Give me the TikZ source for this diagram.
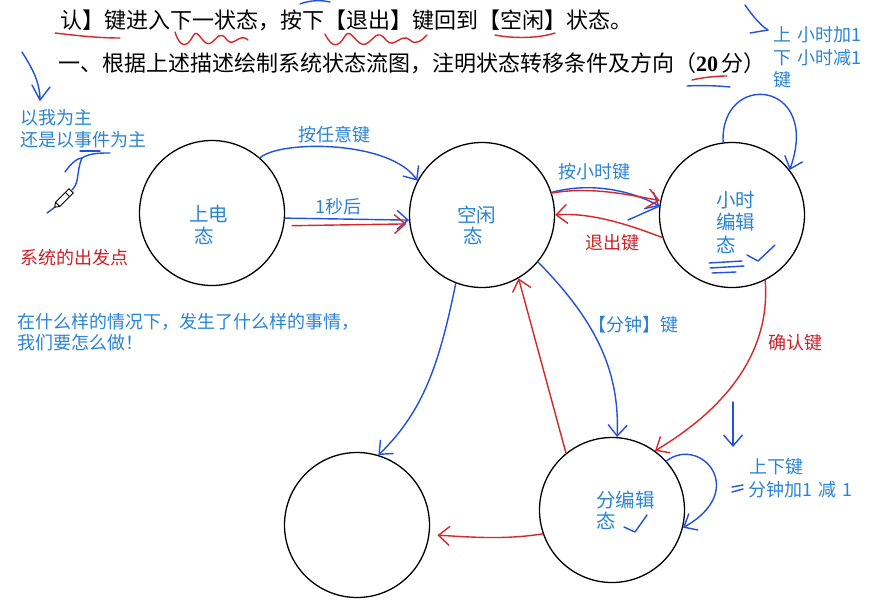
\documentclass[tikz,border=0pt]{standalone}
\usepackage{fontspec}
\newfontfamily\cjk{Noto Sans CJK SC}
\newfontfamily\serifnum{Liberation Serif}
\usetikzlibrary{arrows.meta}
\definecolor{txtblue}{HTML}{2A84D6}
\definecolor{penblue}{HTML}{2250E0}
\definecolor{penred}{HTML}{D8262A}
\definecolor{txtred}{HTML}{CC2228}
\begin{document}
\begin{tikzpicture}[x=1pt,y=-1pt,
  state/.style={circle,draw=black,line width=1.3pt,minimum size=145pt,inner sep=0pt},
  lbl/.style={font=\cjk\fontsize{18}{22}\selectfont,text=txtblue,inner sep=0pt,anchor=west},
  slbl/.style={lbl,font=\cjk\fontsize{19.5}{22}\selectfont},
  redlbl/.style={lbl,text=txtred},
  toptxt/.style={font=\cjk\fontsize{22}{26}\selectfont,text=black,inner sep=0pt,anchor=west},
  bpen/.style={draw=penblue,line width=1.4pt,line cap=round,line join=round},
  rpen/.style={draw=penred,line width=1.4pt,line cap=round,line join=round},
  barb/.style={-{Straight Barb[length=11pt,width=19pt,line width=1.4pt]}},
]
\fill[white] (0,0) rectangle (886,608);
\useasboundingbox (0,0) rectangle (886,608);

% ---------- top text ----------
\node[toptxt] (t1) at (60,20) {认】键进入下一状态，按下【退出】键回到【空闲】状态。};
\node[toptxt] (t2) at (58,63) {一、根据上述描述绘制系统状态流图，注明状态转移条件及方向（{\serifnum\bfseries 20}\,分）};

% marks on the top text
\draw[rpen] (55,33) .. controls (80,36) and (100,38) .. (120,38);
\draw[rpen] (175,32) .. controls (180,48) and (187,48) .. (193,36)
  .. controls (198,26) and (203,48) .. (211,43) .. controls (218,38) and (220,30) .. (227,40)
  .. controls (233,48) and (240,32) .. (248,40);
\draw[rpen] (325,34) .. controls (332,48) and (338,48) .. (345,36)
  .. controls (351,26) and (357,48) .. (366,44) .. controls (374,40) and (377,28) .. (386,40)
  .. controls (394,50) and (401,32) .. (410,40) .. controls (416,46) and (422,40) .. (427,35);
\draw[rpen] (495,35) .. controls (515,39) and (540,38) .. (555,33);
\draw[rpen] (692,80) .. controls (705,77) and (718,76) .. (727,76);
\draw[bpen] (687,86) .. controls (705,85) and (720,86) .. (730,87);
\draw[bpen] (300,4) .. controls (310,0) and (322,0) .. (330,2);

% ---------- states ----------
\node[state] (P) at (212,213) {};
\node[state] (I) at (482,215) {};
\node[state] (H) at (732,215) {};
\node[state] (E) at (357,525) {};
\node[state] (M) at (612,510) {};

\node[slbl] (p1) at (189,214) {上电};
\node[slbl] (p2) at (194,236) {态};
\node[slbl] (i1) at (457,215) {空闲};
\node[slbl] (i2) at (463,236) {态};
\node[slbl] (h1) at (716,200) {小时};
\node[slbl] (h2) at (716,222) {编辑};
\node[slbl] (h3) at (716,245) {态};
\node[slbl] (m1) at (596,500) {分编辑};
\node[slbl] (m2) at (596,521) {态};

% ---------- annotations ----------
\node[lbl] (a1) at (20,118) {以我为主};
\node[lbl] (a2) at (20,140) {还是以事件为主};
\node[redlbl] (a3) at (20,258) {系统的出发点};
\node[lbl] (a4) at (17,322) {在什么样的情况下，发生了什么样的事情，};
\node[lbl] (a5) at (17,343) {我们要怎么做！};
\node[lbl] (a6) at (773,35) {上\,\,小时加1};
\node[lbl] (a7) at (773,58) {下\,\,小时减1};
\node[lbl] (a8) at (773,80) {键};

% top-left arrow
\coordinate (tl0) at (22,52);
\coordinate (tl1) at (40,100);
\draw[bpen] (tl0) .. controls (30,65) and (40,80) .. (tl1);
\draw[bpen] (32,85) -- (tl1) -- (50,87);
% top-right arrow
\coordinate (tr0) at (745,5);
\coordinate (tr1) at (768,30);
\draw[bpen] (tr0) .. controls (752,15) and (760,25) .. (tr1);
\draw[bpen] (750,33) -- (tr1);

% pen and arrow to 事件
\coordinate (pn0) at (47,213);
\coordinate (pn1) at (82,158);
\draw[bpen] (pn0) -- (55,207);
\draw[bpen] (72,190) .. controls (80,182) and (76,172) .. (pn1);
\draw[bpen] (65,172) .. controls (72,162) and (78,158) .. (pn1) .. controls (90,153) and (100,153) .. (110,153);
\draw[bpen] (80,151) -- (100,151);
\begin{scope}[shift={(64,198)},rotate=45]
  \draw[black,line width=0.9pt,fill=white] (-9,-3) rectangle (10,3);
  \draw[black,line width=0.9pt] (-9,-3) -- (-13,0) -- (-9,3);
  \draw[black,line width=0.9pt] (5,-3) -- (5,3);
\end{scope}

% ---------- connectors ----------
% 上电 -> 空闲 : 按任意键
\draw[bpen,barb] (P.49) .. controls (280,140) and (390,140) .. (I.152);
\node[lbl] (l1) at (298,135) {按任意键};
% 上电 -> 空闲 : 1秒后
\draw[bpen,barb] (P.-4) -- (I.184);
\draw[rpen,barb] ([xshift=8pt]P.-10) -- ([xshift=-3pt]I.187);
\node[lbl] (l2) at (315,207) {1秒后};
% 空闲 -> 小时 : 按小时键
\draw[bpen,barb] (I.18) .. controls (590,182) and (630,190) .. (H.173);
\draw[rpen,barb] ([yshift=-2pt]I.19) .. controls (590,186) and (630,195) .. ([yshift=3pt]H.171);
\draw[bpen] (628,220) -- (H.173);
\node[lbl] (l3) at (558,172) {按小时键};
% 小时 -> 空闲 : 退出键
\draw[rpen,barb] (H.198) .. controls (630,225) and (590,212) .. (I.0);
\node[redlbl] (l4) at (585,243) {退出键};
% 小时 self loop
\draw[bpen,barb] (H.97) .. controls (720,70) and (822,80) .. (H.38);
% 空闲 -> 空(底左)
\draw[bpen,barb] (I.249) .. controls (440,360) and (425,410) .. (E.73);
% 空闲 -> 分编辑 : 【分钟】键
\draw[bpen,barb] (I.-40) .. controls (595,320) and (620,370) .. (M.86);
\node[lbl] (l5) at (588,325) {【分钟】键};
% 分编辑 -> 空闲 (red)
\draw[rpen,barb] (M.129) -- (I.-60);
% 小时 -> 分编辑 : 确认键
\draw[rpen,barb] (H.-63) .. controls (770,340) and (740,400) .. (M.54);
\node[redlbl] (l6) at (768,343) {确认键};
% small down arrow
\coordinate (d0) at (733,402);
\coordinate (d1) at (733,447);
\draw[bpen,barb] (d0) -- (d1);
% 分编辑 self loop
\draw[bpen,barb] (M.42) .. controls (700,435) and (750,490) .. (M.-14);
\node[lbl] (l7) at (749,467) {上下键};
\node[lbl] (l8) at (748,490) {分钟加1\,\,减\,\,1};
\draw[bpen] (732,487) -- (743,485);
\draw[bpen] (732,492) -- (743,489);
% 分编辑 -> 底左 (red)
\draw[rpen,barb] (M.199) .. controls (505,540) and (470,537) .. ([xshift=8pt]E.-8);

% check marks and scribbles
\draw[bpen] (709,263) -- (742,261);
\draw[bpen] (710,268) -- (744,266);
\draw[bpen] (712,273) -- (736,272);
\draw[bpen] (747,255) -- (758,261) -- (775,245);
\draw[bpen] (624,527) -- (635,532) -- (647,515);
\end{tikzpicture}
\end{document}
